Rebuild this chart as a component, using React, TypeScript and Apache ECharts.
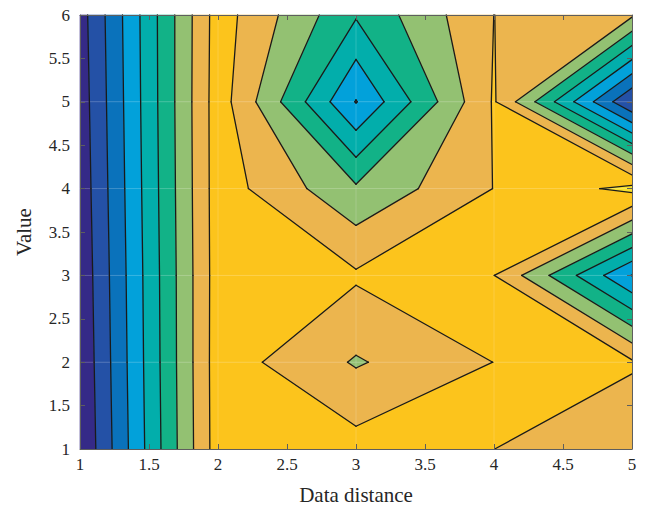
import React, { useEffect, useRef } from "react";
import * as echarts from "echarts";

// Grid coordinates
const xValues = [1, 2, 3, 4, 5];
const yValues = [1, 2, 3, 4, 5, 6];
// Z values, one row per y (y = 1..6), one column per x (x = 1..5)
const zRowY1 = [0.03, 8.5, 8.39, 8.005, 7.1];
const zRowY2 = [0.14, 8.52, 6.9, 8.01, 8.14];
const zRowY3 = [0.24, 8.5, 8.14, 8.01, 2.97];
const zRowY4 = [0.35, 8.52, 6.16, 8.02, 9.3];
const zRowY5 = [0.45, 8.53, 2.95, 8.1, 1.02];
const zRowY6 = [0.56, 8.48, 5.1, 8.005, 7.15];
const zRows = [zRowY1, zRowY2, zRowY3, zRowY4, zRowY5, zRowY6];

// Contour levels and fill colours of the bands between them
const levels = [1, 2, 3, 4, 5, 6, 7, 8, 9];
const bandColors = [
  "#352a87",
  "#2451a6",
  "#0a72bb",
  "#02a1da",
  "#02aeab",
  "#12b287",
  "#93c172",
  "#ecb54e",
  "#fcc41c",
  "#f7e22c",
];

const xTitle = "Data distance";
const yTitle = "Value";

type P = { x: number; y: number; z: number };

function clipPoly(poly: P[], level: number, keepAbove: boolean): P[] {
  const out: P[] = [];
  const n = poly.length;
  for (let i = 0; i < n; i++) {
    const a = poly[i];
    const b = poly[(i + 1) % n];
    const ina = keepAbove ? a.z >= level : a.z <= level;
    const inb = keepAbove ? b.z >= level : b.z <= level;
    if (ina) out.push(a);
    if (ina !== inb) {
      const t = (level - a.z) / (b.z - a.z);
      out.push({ x: a.x + t * (b.x - a.x), y: a.y + t * (b.y - a.y), z: level });
    }
  }
  return out;
}

function buildGeometry() {
  const fills: { pts: [number, number][]; color: string }[] = [];
  const segs: [[number, number], [number, number]][] = [];
  for (let j = 0; j < yValues.length - 1; j++) {
    for (let i = 0; i < xValues.length - 1; i++) {
      const x0 = xValues[i], x1 = xValues[i + 1];
      const y0 = yValues[j], y1 = yValues[j + 1];
      const corners: P[] = [
        { x: x0, y: y0, z: zRows[j][i] },
        { x: x1, y: y0, z: zRows[j][i + 1] },
        { x: x1, y: y1, z: zRows[j + 1][i + 1] },
        { x: x0, y: y1, z: zRows[j + 1][i] },
      ];
      for (let b = 0; b < bandColors.length; b++) {
        let poly = corners.slice();
        if (b > 0) poly = clipPoly(poly, levels[b - 1], true);
        if (poly.length >= 3 && b < levels.length) poly = clipPoly(poly, levels[b], false);
        if (poly.length >= 3) {
          fills.push({ pts: poly.map((p) => [p.x, p.y] as [number, number]), color: bandColors[b] });
        }
      }
      for (const L of levels) {
        const above = corners.map((c) => c.z >= L);
        const cross: ([number, number] | null)[] = [];
        for (let e = 0; e < 4; e++) {
          const a = corners[e], c = corners[(e + 1) % 4];
          if (above[e] !== above[(e + 1) % 4]) {
            const t = (L - a.z) / (c.z - a.z);
            cross.push([a.x + t * (c.x - a.x), a.y + t * (c.y - a.y)]);
          } else cross.push(null);
        }
        const idx = cross.map((c, k) => (c ? k : -1)).filter((k) => k >= 0);
        if (idx.length === 2) {
          segs.push([cross[idx[0]]!, cross[idx[1]]!]);
        } else if (idx.length === 4) {
          const center = corners.reduce((s, c) => s + c.z, 0) / 4 >= L;
          for (let k = 0; k < 4; k++) {
            if (above[k] !== center) {
              segs.push([cross[(k + 3) % 4]!, cross[k]!]);
            }
          }
        }
      }
    }
  }
  return { fills, segs };
}

const serif = "'Liberation Serif', 'DejaVu Serif', serif";

export default function App() {
  const ref = useRef<HTMLDivElement>(null);
  useEffect(() => {
    if (!ref.current) return;
    const chart = echarts.init(ref.current, undefined, { renderer: "svg" });
    const geo = buildGeometry();
    const axisColor = "#5e5e5e";
    const labelColor = "#262626";
    const commonX = {
      type: "value" as const,
      min: 1,
      max: 5,
      interval: 0.5,
      splitLine: { show: false },
      axisLine: { show: true, lineStyle: { color: axisColor, width: 1 } },
      axisTick: { show: true, inside: true, length: 5, lineStyle: { color: axisColor } },
      z: 10,
    };
    const commonY = {
      type: "value" as const,
      min: 1,
      max: 6,
      interval: 0.5,
      splitLine: { show: false },
      axisLine: { show: true, lineStyle: { color: axisColor, width: 1 } },
      axisTick: { show: true, inside: true, length: 5, lineStyle: { color: axisColor } },
      z: 10,
    };
    chart.setOption({
      animation: false,
      grid: { left: 80, top: 15, right: 14, bottom: 59, containLabel: false },
      xAxis: [
        {
          ...commonX,
          position: "bottom",
          name: xTitle,
          nameLocation: "middle",
          nameGap: 35,
          nameTextStyle: { fontFamily: serif, fontSize: 21, color: labelColor },
          axisLabel: { fontFamily: serif, fontSize: 17, color: labelColor, margin: 7 },
        },
        { ...commonX, position: "top", axisLabel: { show: false } },
      ],
      yAxis: [
        {
          ...commonY,
          position: "left",
          name: yTitle,
          nameLocation: "middle",
          nameGap: 46,
          nameTextStyle: { fontFamily: serif, fontSize: 21, color: labelColor },
          axisLabel: { fontFamily: serif, fontSize: 17, color: labelColor, margin: 10 },
        },
        { ...commonY, position: "right", axisLabel: { show: false } },
      ],
      series: [
        {
          type: "custom",
          coordinateSystem: "cartesian2d",
          xAxisIndex: 0,
          yAxisIndex: 0,
          silent: true,
          data: [[xValues[0], yValues[0]]],
          renderItem: (_params: any, api: any) => {
            const children: any[] = [];
            for (const f of geo.fills) {
              children.push({
                type: "polygon",
                shape: { points: f.pts.map((p) => api.coord(p)) },
                style: { fill: f.color, stroke: f.color, lineWidth: 0.6 },
              });
            }
            for (const xv of xValues.slice(1, -1)) {
              const a = api.coord([xv, yValues[0]]);
              const b = api.coord([xv, yValues[yValues.length - 1]]);
              children.push({
                type: "line",
                shape: { x1: a[0], y1: a[1], x2: b[0], y2: b[1] },
                style: { stroke: "rgba(255,255,255,0.18)", lineWidth: 1 },
              });
            }
            for (const yv of yValues.slice(1, -1)) {
              const a = api.coord([xValues[0], yv]);
              const b = api.coord([xValues[xValues.length - 1], yv]);
              children.push({
                type: "line",
                shape: { x1: a[0], y1: a[1], x2: b[0], y2: b[1] },
                style: { stroke: "rgba(255,255,255,0.18)", lineWidth: 1 },
              });
            }
            for (const s of geo.segs) {
              const a = api.coord(s[0]);
              const b = api.coord(s[1]);
              children.push({
                type: "line",
                shape: { x1: a[0], y1: a[1], x2: b[0], y2: b[1] },
                style: { stroke: "#1a1a1a", lineWidth: 1.3, lineCap: "round" },
              });
            }
            return { type: "group", children };
          },
        },
      ],
    });
    return () => chart.dispose();
  }, []);
  return (
    <div
      ref={ref}
      style={{ position: "fixed", left: 0, top: 0, width: 646, height: 510, background: "#ffffff" }}
    />
  );
}
